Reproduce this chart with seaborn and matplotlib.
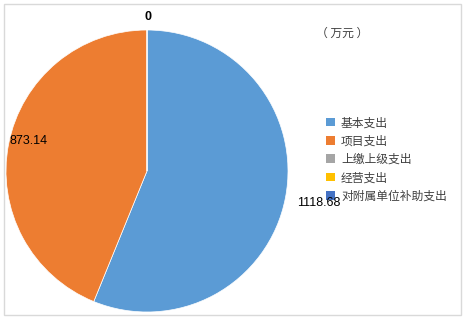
import matplotlib
matplotlib.use("Agg")
import matplotlib.pyplot as plt
import seaborn as sns
from matplotlib.patches import Rectangle, Patch

categories = ["基本支出", "项目支出", "上缴上级支出", "经营支出", "对附属单位补助支出"]
values = [1118.68, 873.14, 0, 0, 0]
value_labels = ["1118.68", "873.14", "0"]
colors = ["#5B9BD5", "#ED7D31", "#A5A5A5", "#FFC000", "#4472C4"]
unit_label = "（ 万元 ）"

sns.set_theme(style="white")
plt.rcParams['font.family'] = ['Noto Sans CJK SC', 'DejaVu Sans']

W, H = 465, 319
fig = plt.figure(figsize=(W / 100, H / 100), dpi=100)
fig.patch.set_facecolor("white")

# border
fig.add_artist(Rectangle((4 / W, 4 / H), 457 / W, 311 / H, transform=fig.transFigure,
                         fill=False, edgecolor="#D9D9D9", linewidth=1.0))

cx, cy, r = 147, 171, 141
ax = fig.add_axes([(cx - r) / W, (H - cy - r) / H, 2 * r / W, 2 * r / H])
pal = sns.color_palette(colors)
wedges, _ = ax.pie(values, colors=pal, startangle=90, counterclock=False, radius=1.0,
                   wedgeprops=dict(linewidth=0.5, edgecolor="white"))
ax.set_xlim(-1, 1)
ax.set_ylim(-1, 1)
ax.set_aspect("equal")
ax.axis("off")

lab_kw = dict(ha="center", va="center", fontsize=9, color="black",
              family=['Liberation Sans', 'DejaVu Sans'], zorder=10)
fig.text(319 / W, 1 - 203 / H, value_labels[0], **lab_kw)
fig.text(29 / W, 1 - 141 / H, value_labels[1], **lab_kw)
fig.text(148 / W, 1 - 17 / H, value_labels[2], fontweight="bold", **lab_kw)

fig.text(342 / W, 1 - 33 / H, unit_label, ha="center", va="center", fontsize=8.5, color="#404040")

handles = [Patch(facecolor=c, edgecolor="none") for c in pal]
fig.legend(handles, categories, loc="upper left", bbox_to_anchor=(318 / W, 1 - 108 / H),
           frameon=False, fontsize=8.5, handlelength=0.75, handleheight=0.75,
           handletextpad=0.5, labelspacing=0.45, borderpad=0.2,
           labelcolor="#404040")

fig.savefig("out.png", dpi=100, facecolor="white")
